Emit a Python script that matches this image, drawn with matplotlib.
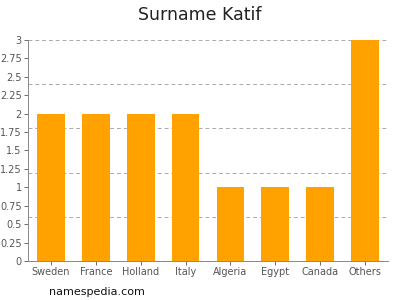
import numpy as np
import matplotlib.pyplot as plt

countries = ["Sweden", "France", "Holland", "Italy", "Algeria", "Egypt", "Canada", "Others"]
counts = [2, 2, 2, 2, 1, 1, 1, 3]
y_ticks = [0, 0.25, 0.5, 0.75, 1, 1.25, 1.5, 1.75, 2, 2.25, 2.5, 2.75, 3]
y_tick_labels = ["0", "0.25", "0.5", "0.75", "1", "1.25", "1.5", "1.75", "2", "2.25", "2.5", "2.75", "3"]
grid_levels = [0.6, 1.2, 1.8, 2.4, 3.0]

fig = plt.figure(figsize=(4, 3), dpi=100)
ax = fig.add_axes([0.07, 0.13, 0.9, 0.737])

x_pos = np.arange(len(countries))
ax.bar(x_pos, counts, width=0.62, color='#FFA200', zorder=2)

# dashed guide lines every 0.6, the top one sits on the axis limit
for lvl in grid_levels:
    ax.axhline(lvl, linestyle=(0, (4, 3)), color='#aaaaaa', linewidth=0.7, zorder=0, clip_on=False)

ax.set_xlim(-0.51, len(countries) - 0.49)
ax.set_ylim(0, 3)
ax.set_xticks(x_pos, countries)
ax.set_yticks(y_ticks, y_tick_labels)
ax.tick_params(axis='both', labelsize=7, colors='#555555', length=3, width=0.6, pad=1.5)

for side in ['top', 'right']:
    ax.spines[side].set_visible(False)
for side in ['left', 'bottom']:
    ax.spines[side].set_color('#888888')
    ax.spines[side].set_linewidth(0.7)

fig.text(0.5, 0.95, "Surname Katif", ha='center', va='center', fontsize=12.5, color='#222222')
fig.text(0.123, 0.027, "namespedia.com", ha='left', va='center', fontsize=8, color='#111111')

fig.savefig("out.png", dpi=100)
